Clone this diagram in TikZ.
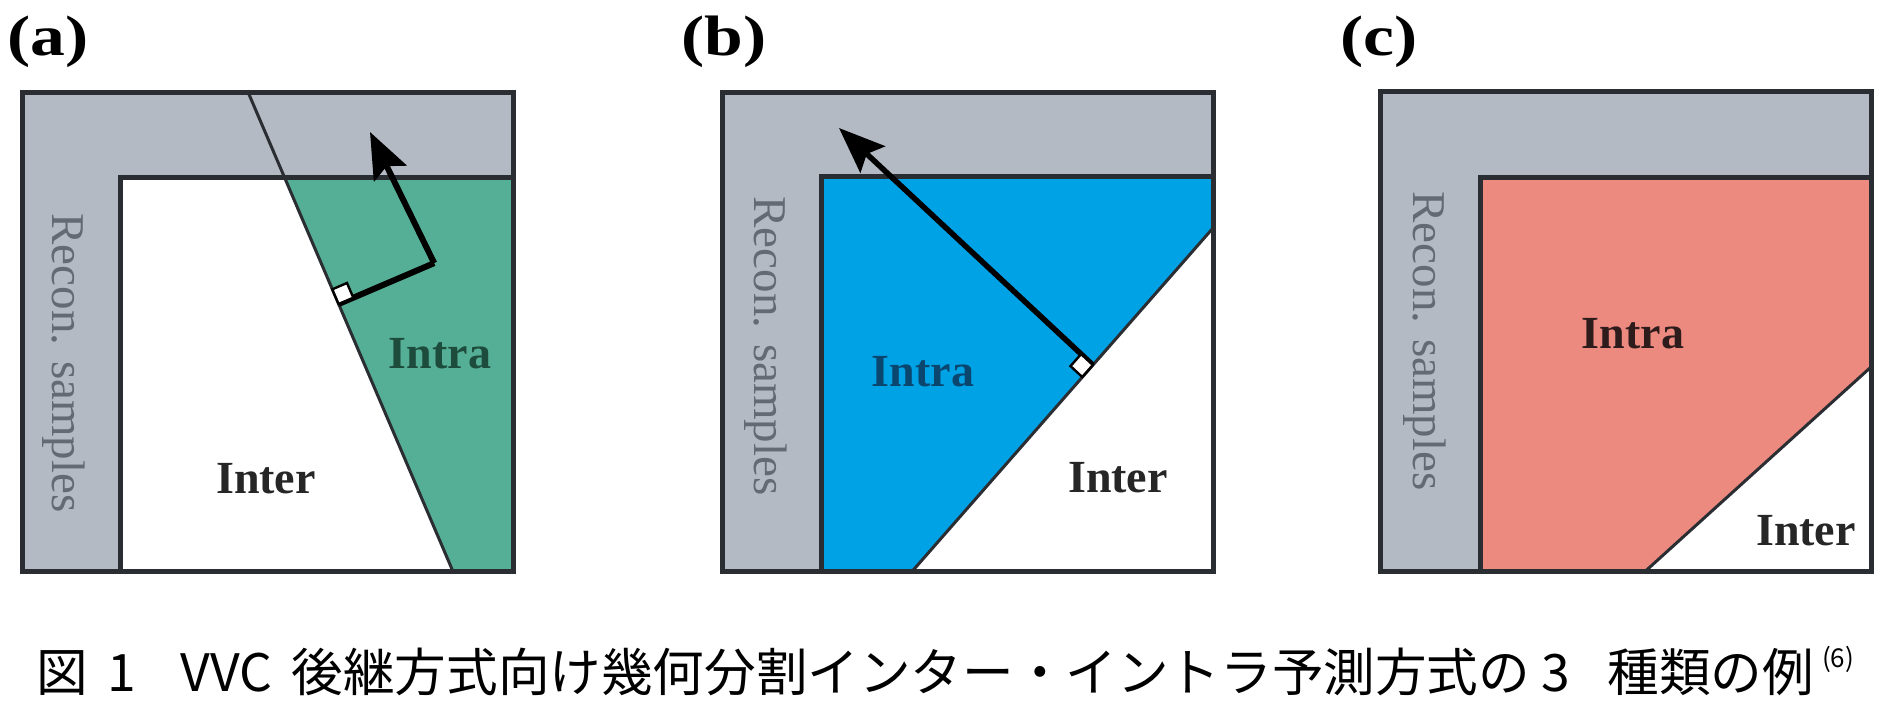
\documentclass[tikz,border=0pt]{standalone}
\usepackage{fontspec}
\setmainfont{Liberation Serif}
\newfontfamily\jp{Noto Sans CJK JP}
\usetikzlibrary{arrows.meta}
\definecolor{bandgray}{HTML}{B4BAC4}
\definecolor{edgec}{HTML}{2A2D32}
\definecolor{greenf}{HTML}{55AF96}
\definecolor{bluef}{HTML}{00A2E6}
\definecolor{salmonf}{HTML}{EC8A80}
\definecolor{recontxt}{HTML}{646A74}
\definecolor{intraA}{HTML}{1E4C3C}
\definecolor{intraB}{HTML}{0A466E}
\definecolor{intraC}{HTML}{2E1C1C}
\definecolor{intertxt}{HTML}{262626}
\tikzset{
  outerbox/.style={draw=edgec, line width=5pt},
  innerline/.style={draw=edgec, line width=5pt},
  splitline/.style={draw=edgec, line width=3pt},
  vecarrow/.style={draw=black, line width=6pt, -{Stealth[length=46pt,width=36pt,inset=8pt]}},
  rightmark/.style={fill=white, draw=black, line width=2.4pt},
  panellabel/.style={anchor=base west, inner sep=0pt, font=\fontsize{57}{57}\selectfont\bfseries},
  recon/.style={rotate=-90, anchor=base, inner sep=0pt, text=recontxt, font=\fontsize{47}{47}\selectfont},
  regionlabel/.style={anchor=base, inner sep=0pt, font=\fontsize{46}{46}\selectfont\bfseries},
}
\begin{document}
\begin{tikzpicture}[x=1pt,y=-1pt]
\useasboundingbox[fill=white] (0,0) rectangle (1898,701);

% ---------------- panel (a) ----------------
\node[panellabel] (la) at (7,56) {\scalebox{1.22}[1]{(a)}};
\coordinate (aTL) at (22.5,92);
\coordinate (aBR) at (513,571.5);
\fill[bandgray] (aTL) rectangle (aBR);
\fill[white] (120,177) rectangle (aBR);
\fill[greenf] (284.3,177) -- (513,177) -- (513,571.5) -- (453,571.5) -- cycle;
\coordinate (aS1) at (248,92);
\coordinate (aS2) at (453,571.5);
\draw[splitline] (aS1) -- (aS2);
\draw[innerline] (513,177) -- (120,177) -- (120,571.5);
\draw[outerbox] (aTL) rectangle (aBR);
\coordinate (aF) at (338.6,304);
\coordinate (aC) at (434.2,263.1);
\coordinate (aT) at (370,132);
\draw[line width=6pt, line join=miter] (aF) -- (aC);
\draw[vecarrow] (aC) -- (aT);
\draw[rightmark] (aF) -- (353.3,297.7) -- (347.0,283.0) -- (332.3,289.3) -- cycle;
\node[recon] (ra) at (52,363) {Recon. samples};
\node[regionlabel, text=intraA] (ia) at (440,368) {Intra};
\node[regionlabel, text=intertxt] (ea) at (266,493) {Inter};

% ---------------- panel (b) ----------------
\node[panellabel] (lb) at (681,56) {\scalebox{1.22}[1]{(b)}};
\coordinate (bTL) at (722.7,92);
\coordinate (bBR) at (1213,571.5);
\fill[bandgray] (bTL) rectangle (bBR);
\fill[white] (821,176) rectangle (bBR);
\coordinate (bS1) at (1213,228);
\coordinate (bS2) at (912,571.5);
\fill[bluef] (821,176) -- (1213,176) -- (bS1) -- (bS2) -- (821,571.5) -- cycle;
\draw[splitline] (bS1) -- (bS2);
\draw[innerline] (1213,176) -- (821,176) -- (821,571.5);
\draw[outerbox] (bTL) rectangle (bBR);
\coordinate (bF) at (1092.8,365);
\coordinate (bT) at (839,128);
\draw[vecarrow, line width=5.5pt] (bF) -- (bT);
\draw[rightmark] (bF) -- (1081.1,354.1) -- (1070.5,366.1) -- (1082.2,377.0) -- cycle;
\node[recon] (rb) at (754,346) {Recon. samples};
\node[regionlabel, text=intraB] (ib) at (923,386) {Intra};
\node[regionlabel, text=intertxt] (eb) at (1118,492) {Inter};

% ---------------- panel (c) ----------------
\node[panellabel] (lc) at (1340,56) {\scalebox{1.22}[1]{(c)}};
\coordinate (cTL) at (1380.5,91);
\coordinate (cBR) at (1871,571.5);
\fill[bandgray] (cTL) rectangle (cBR);
\fill[white] (1480,177) rectangle (cBR);
\coordinate (cS1) at (1871,367);
\coordinate (cS2) at (1645,571.5);
\fill[salmonf] (1480,177) -- (1871,177) -- (cS1) -- (cS2) -- (1480,571.5) -- cycle;
\draw[splitline] (cS1) -- (cS2);
\draw[innerline] (1871,177) -- (1480,177) -- (1480,571.5);
\draw[outerbox] (cTL) rectangle (cBR);
\node[recon] (rc) at (1413,341) {Recon. samples};
\node[regionlabel, text=intraC] (ic) at (1633,348) {Intra};
\node[regionlabel, text=intertxt] (ec) at (1806,545) {Inter};

% ---------------- caption ----------------
\node[anchor=base west, inner sep=0pt, text=black] (cap) at (36,691)
  {\jp\fontsize{51.6}{51.6}\selectfont 図\hspace{20pt}1\hspace{44pt}VVC\hspace{19pt}後継方式向け幾何分割インター・イントラ予測方式の\hspace{11pt}3\hspace{38pt}種類の例\hspace{8pt}\raisebox{24pt}{\fontsize{26}{26}\selectfont (6)}};
\end{tikzpicture}
\end{document}
